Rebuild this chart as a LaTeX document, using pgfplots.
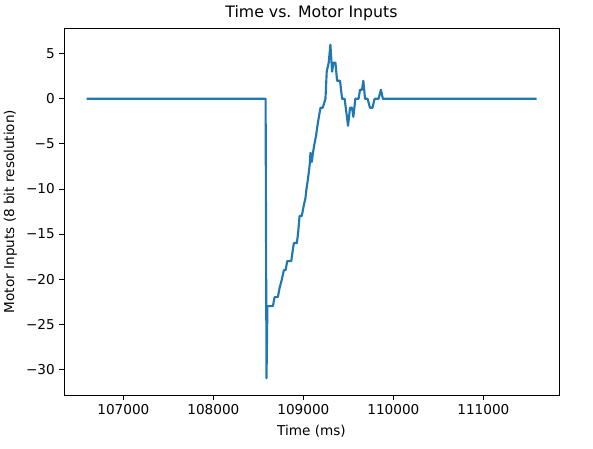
\documentclass[border=0pt]{standalone}
\usepackage{fontspec}
\setmainfont{DejaVu Sans}
\usepackage{pgfplots}
\pgfplotsset{compat=1.18}
\definecolor{mplblue}{HTML}{1F77B4}
\begin{document}
\begin{tikzpicture}
\begin{axis}[
  scale only axis,
  width=371.25pt, height=275.25pt,
  xmin=106340, xmax=111840,
  ymin=-32.85, ymax=7.85,
  scaled x ticks=false, scaled y ticks=false,
  xtick={107000,108000,109000,110000,111000},
  xticklabels={107000,108000,109000,110000,111000},
  ytick={-30,-25,-20,-15,-10,-5,0,5},
  yticklabels={−30,−25,−20,−15,−10,−5,0,5},
  tick align=outside, tick pos=left,
  major tick length=3.4pt,
  every tick/.style={black, line width=0.6pt},
  axis line style={line width=0.6pt},
  tick label style={font=\fontsize{10.2}{12}\selectfont},
  label style={font=\fontsize{10.2}{12}\selectfont},
  title style={font=\fontsize{11.8}{13}\selectfont, yshift=-4pt},
  title={Time vs. Motor Inputs},
  xlabel={Time (ms)},
  ylabel={Motor Inputs (8 bit resolution)},
  xlabel style={yshift=-1pt},
]
\addplot[mplblue, line width=1.6pt, line join=round] coordinates {
(106590,0) (108580,0) (108590,-31) (108600,-23) (108606,-23) (108661,-23)
(108680,-22) (108716,-22) (108735,-21) (108761,-20) (108783,-19) (108802,-19)
(108821,-18) (108865,-18) (108879,-17) (108894,-16) (108927,-16) (108940,-15)
(108949,-14) (108957,-13) (108982,-13) (109001,-12) (109023,-11) (109034,-10)
(109049,-9) (109062,-8) (109073,-7) (109078,-6) (109093,-7) (109106,-6)
(109123,-5) (109142,-4) (109156,-3) (109172,-2) (109190,-1) (109215,-1)
(109245,0) (109250,1) (109259,3) (109281,4) (109300,6) (109319,3)
(109334,4) (109356,4) (109374,2) (109407,2) (109430,0) (109458,0)
(109496,-3) (109518,-1) (109540,-1) (109555,-2) (109577,0) (109613,0)
(109629,1) (109651,1) (109666,2) (109685,0) (109713,0) (109740,-1)
(109768,-1) (109791,0) (109835,0) (109861,1) (109883,0) (111590,0)
};
\end{axis}
\pgfresetboundingbox
\path[use as bounding box] ([shift={(-48pt,-39.75pt)}]current axis.south west) rectangle ([shift={(25.5pt,21pt)}]current axis.north east);
\end{tikzpicture}
\end{document}
